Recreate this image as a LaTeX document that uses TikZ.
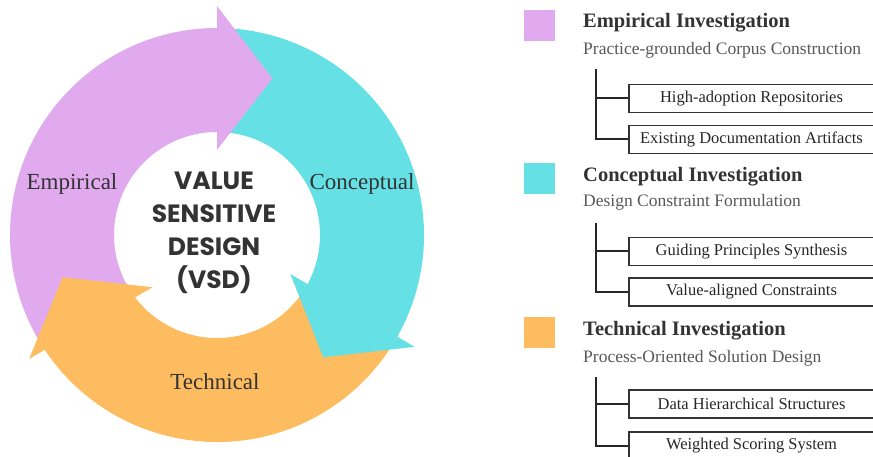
\documentclass[tikz,border=0pt]{standalone}
\usepackage{fontspec}
\setmainfont{Liberation Serif}
\newfontfamily\vsdfont{Poppins}
\usepackage{xcolor}
\definecolor{empcol}{HTML}{E1AAEF}
\definecolor{concol}{HTML}{65E1E5}
\definecolor{teccol}{HTML}{FDBC5F}
\definecolor{labelgray}{HTML}{333333}
\definecolor{subgray}{HTML}{585858}
\definecolor{boxgray}{HTML}{333333}

\tikzset{
    ringlabel/.style={anchor=base, text=labelgray, font=\fontsize{23}{28}\selectfont},
    heading/.style={anchor=base west, inner sep=0pt, text=labelgray, font=\bfseries\fontsize{20.5}{24}\selectfont},
    subhead/.style={anchor=base west, inner sep=0pt, text=subgray, font=\fontsize{17.5}{21}\selectfont},
    leafbox/.style={draw=boxgray, line width=1.6pt, minimum width=245pt, minimum height=28pt,
        inner sep=0pt, text=black!85, font=\fontsize{16.5}{20}\selectfont},
    treeline/.style={draw=black!85, line width=2pt},
    swatch/.style={minimum size=31pt, inner sep=0pt}
}

\begin{document}
\begin{tikzpicture}[x=1pt, y=-1pt]
    \useasboundingbox (0,0) rectangle (873,457);

    % cycle ring
    \begin{scope}[shift={(217,235)}]
        \fill[empcol] (90:207pt) arc[start angle=90, end angle=213, radius=207pt]
            -- (213:103pt) arc[start angle=213, end angle=90, radius=103pt] -- cycle;
        \fill[concol] (-29.5:207pt) arc[start angle=-29.5, end angle=90, radius=207pt]
            -- (90:103pt) arc[start angle=90, end angle=-29.5, radius=103pt] -- cycle;
        \fill[teccol] (213:207pt) arc[start angle=213, end angle=330.5, radius=207pt]
            -- (330.5:103pt) arc[start angle=330.5, end angle=213, radius=103pt] -- cycle;
        % arrow heads
        \fill[empcol] (90:85pt) -- (70.5:166pt) -- (90:229pt) -- cycle;
        \fill[concol] (-28:83pt) -- (-49:162pt) -- (-29.5:227pt) -- cycle;
        \fill[teccol] (219:83pt) -- (195.3:160pt) -- (213.4:225pt) -- cycle;
    \end{scope}

    \node[ringlabel] (emplabel) at (72,190) {Empirical};
    \node[ringlabel] (conlabel) at (362,190) {Conceptual};
    \node[ringlabel] (teclabel) at (215,389) {Technical};
    \node[align=center, text=labelgray, font=\vsdfont\bfseries\fontsize{25}{33}\selectfont]
        (vsd) at (214,233) {VALUE\\SENSITIVE\\DESIGN\\(VSD)};

    % empirical
    \node[swatch, fill=empcol] (empkey) at (539.5,25.5) {};
    \node[heading] (emphead) at (583,28) {Empirical Investigation};
    \node[subhead] (empsub) at (583,55) {Practice-grounded Corpus Construction};
    \coordinate (emproot) at (596,69);
    \node[leafbox] (emp1) at (751.5,98.5) {High-adoption Repositories};
    \node[leafbox] (emp2) at (751.5,139.5) {Existing Documentation Artifacts};
    \draw[treeline] (emproot) |- (emp1.west);
    \draw[treeline] (emproot) |- (emp2.west);

    % conceptual
    \node[swatch, fill=concol] (conkey) at (539.5,178.5) {};
    \node[heading] (conhead) at (583,182) {Conceptual Investigation};
    \node[subhead] (consub) at (583,207) {Design Constraint Formulation};
    \coordinate (conroot) at (596,223);
    \node[leafbox] (con1) at (751.5,251.5) {Guiding Principles Synthesis};
    \node[leafbox] (con2) at (751.5,292) {Value-aligned Constraints};
    \draw[treeline] (conroot) |- (con1.west);
    \draw[treeline] (conroot) |- (con2.west);

    % technical
    \node[swatch, fill=teccol] (teckey) at (539.5,332.5) {};
    \node[heading] (techead) at (583,335) {Technical Investigation};
    \node[subhead] (tecsub) at (583,362) {Process-Oriented Solution Design};
    \coordinate (tecroot) at (596,377);
    \node[leafbox] (tec1) at (751.5,404) {Data Hierarchical Structures};
    \node[leafbox] (tec2) at (751.5,446) {Weighted Scoring System};
    \draw[treeline] (tecroot) |- (tec1.west);
    \draw[treeline] (tecroot) |- (tec2.west);
\end{tikzpicture}
\end{document}
